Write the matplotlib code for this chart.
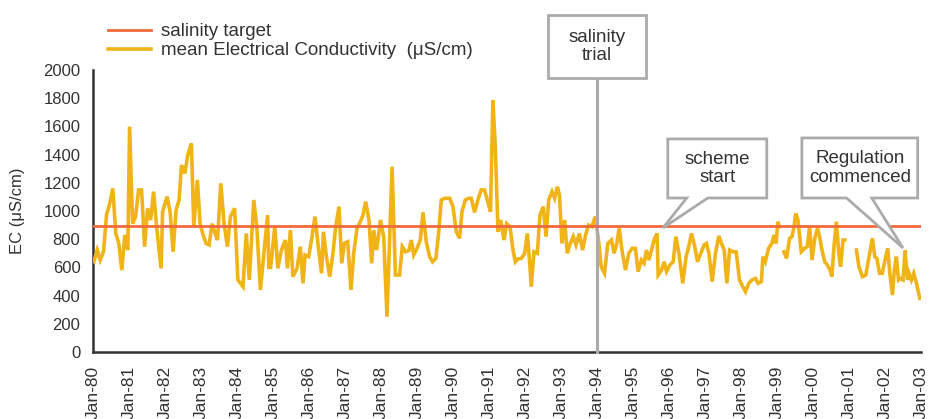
import matplotlib.pyplot as plt
from matplotlib.patches import Polygon
import numpy as np

plt.rcParams['font.family'] = ['Liberation Sans', 'DejaVu Sans']

nan = float('nan')

# sample position (months since Jan-1980) and mean EC
sample_month = [
    0.3, 1.4, 2.4, 3.5, 4.5, 5.6, 6.6, 7.6, 8.6, 9.6, 10.6, 11.6,
    12.2, 13.2, 14.2, 15.2, 16.2, 17.2, 18.2, 19.2, 20.2, 21.2, 22.7, 23.2,
    24.7, 25.7, 26.7, 27.7, 28.7, 29.5, 30.6, 31.6, 32.8, 33.6, 34.8, 35.7,
    36.7, 37.7, 38.7, 39.7, 40.7, 41.5, 42.6, 43.7, 44.8, 45.8, 47.2,
    48.3, 50.0, 51.1, 52.1, 53.6, 54.6, 55.8, 57.2, 58.2, 58.6, 59.2,
    60.6, 61.6, 62.8, 64.1, 64.8, 65.8, 66.6, 68.0, 69.1, 70.0, 70.7, 71.9,
    73.0, 74.0, 75.1, 76.2, 76.8, 77.8, 78.9, 80.0, 80.9, 82.0, 82.9, 83.8,
    84.9, 86.0, 86.9, 88.0, 89.1, 90.0, 90.9, 92.0, 92.9, 93.6, 94.5, 95.1, 95.8,
    96.9, 98.0, 99.7, 100.8, 102.2, 103.1, 104.2, 105.3, 106.1, 106.9, 108.0,
    109.1, 110.0, 111.1, 112.2, 113.2, 114.3, 115.2, 116.1, 117.2, 118.9, 120.0,
    121.1, 122.2, 123.0, 124.1, 125.2, 126.1, 127.2, 128.3, 129.4, 130.5, 131.6,
    132.5, 133.3, 134.1, 135.0, 135.9, 137.0, 137.9, 139.0, 140.0, 140.8, 141.6,
    142.8, 143.9, 144.8, 145.5, 146.1, 147.0, 148.1, 149.0, 150.1, 151.0, 151.9,
    153.0, 153.9, 154.8, 155.5, 156.3, 157.2, 158.1, 159.1, 160.1, 161.0, 162.1,
    163.2, 164.2, 165.2, 166.3, 167.4, 168.5, 169.4, 170.5, 171.6, 172.8, 173.7,
    174.6, 175.4, 176.4, 177.5, 178.6, 179.7, 180.8, 181.7, 182.8, 183.7, 184.5,
    185.3, 186.2, 187.0, 188.0, 188.4, 189.5, 190.4, 191.2, 192.3, 193.4, 194.3,
    195.3, 196.6, 197.7, 198.6, 199.5, 200.6, 201.5, 202.6, 203.7, 204.5, 205.3,
    206.4, 207.5, 208.6, 209.5, 210.4, 211.3, 212.2, 213.3, 214.4, 215.5, 216.3,
    217.5, 218.6, 219.7, 220.8, 221.7, 222.8, 223.3, 224.1, 225.2, 226.3, 227.0,
    227.7, 228.3, 228.8, 229.5, 230.3, 231.2, 232.2, 233.0, 233.7, 234.2, 235.0,
    236.1, 237.2, 238.1, 238.9, 239.7, 240.6, 241.5, 242.2, 243.0, 243.9, 244.8,
    245.7, 246.3, 247.0, 247.8, 248.6, 249.2, 250.0, 250.6, 252.5, 254.5, 255.3,
    256.5, 257.6, 258.7, 259.8, 260.6, 261.3, 262.2, 263.1, 264.0, 264.9, 265.6,
    266.5, 267.1, 267.8, 268.5, 269.1, 270.0, 270.7, 271.5, 272.0, 272.8, 273.6,
    274.5, 275.6,
]
ec = [
    640, 723, 652, 711, 971, 1054, 1160, 841, 770, 581, 830, 723,
    1598, 910, 960, 1149, 1149, 747, 1019, 936, 1137, 889, 593, 995,
    1102, 995, 711, 1007, 1078, 1326, 1267, 1397, 1480, 889, 1220, 910,
    830, 770, 759, 910, 841, 794, 1196, 910, 747, 960, 1019,
    511, 463, 841, 511, 1078, 889, 440, 747, 971, 600, 600,
    889, 593, 723, 794, 593, 865, 534, 593, 747, 487, 688, 676,
    818, 960, 747, 558, 853, 676, 534, 700, 889, 1031, 629, 771,
    782, 440, 700, 877, 924, 971, 1066, 936, 629, 865, 723, 806, 936,
    818, 250, 1314, 546, 546, 747, 711, 720, 794, 688, 735,
    794, 990, 780, 676, 640, 664, 841, 1078, 1090, 1090, 1031,
    853, 806, 995, 1078, 1090, 1090, 990, 1078, 1149, 1149, 1066,
    995, 1787, 1456, 853, 936, 794, 910, 889, 723, 640, 660,
    664, 700, 841, 652, 463, 711, 700, 971, 1031, 818, 1078,
    1137, 1090, 1172, 1113, 770, 936, 700, 770, 818, 759, 841,
    723, 830, 900, 889, 960, 794, 605, 558, 770, 794, 700,
    770, 877, 711, 581, 700, 735, 735, 570, 652, 629, 723,
    652, 723, 794, 841, 546, 581, 640, 570, 617, 640, 818,
    700, 487, 676, 747, 841, 747, 640, 700, 759, 770, 700,
    499, 700, 823, 770, 723, 487, 723, 711, 710, 511, 475,
    428, 487, 511, 522, 487, 499, 676, 640, 735, 770, 830,
    770, 924, 889, nan, 711, 664, 806, 818, 889, 983, 936,
    711, 735, 747, 889, 652, 806, 877, 818, 723, 640, 617,
    581, 534, 747, 924, 700, 605, 794, 794, nan, 723, 605,
    534, 546, 676, 806, 676, 664, 558, 558, 652, 735, 558,
    404, 581, 676, 511, 522, 511, 723, 511, 558, 511, 558,
    487, 381,
]
salinity_target = 890

tick_years = list(range(1980, 2004))
tick_labels = ['Jan-%02d' % (y % 100) for y in tick_years]
y_ticks = list(range(0, 2001, 200))

txt = '#333333'
grey = '#ababab'

fig = plt.figure(figsize=(9.48, 4.19), dpi=100)
ax = fig.add_axes([0.0981, 0.1599, 0.8734, 0.6731])

ax.plot(sample_month, ec, color='#f0b418', lw=2.6, zorder=3,
        solid_joinstyle='miter', label='mean Electrical Conductivity  (\u03bcS/cm)')
ax.axhline(salinity_target, color='#f26a3b', lw=2.0, zorder=5,
           label='salinity target')

ax.set_xlim(0, 276)
ax.set_ylim(0, 2000)
ax.set_xticks([(y - 1980) * 12 for y in tick_years])
ax.set_xticklabels(tick_labels, rotation=90, fontsize=12.5, color=txt)
ax.set_yticks(y_ticks)
ax.set_yticklabels([str(v) for v in y_ticks], fontsize=12, color=txt)
ax.tick_params(axis='both', length=0)
ax.tick_params(axis='x', pad=10)
ax.tick_params(axis='y', pad=9)
ax.set_ylabel('EC (\u03bcS/cm)', fontsize=12, color=txt)
ax.yaxis.set_label_coords(-0.082, 0.5)

for s in ['top', 'right']:
    ax.spines[s].set_visible(False)
for s in ['left', 'bottom']:
    ax.spines[s].set_color('#333333')
    ax.spines[s].set_linewidth(1.8)

h, l = ax.get_legend_handles_labels()
leg = fig.legend(h[::-1], l[::-1], loc='upper left', bbox_to_anchor=(0.114, 0.945),
                 frameon=False, fontsize=13.5, handlelength=2.3, handletextpad=0.5,
                 labelspacing=0.1, borderpad=0, borderaxespad=0)
for t in leg.get_texts():
    t.set_color(txt)


def callout(x0, x1, y0, y1, label, wedge=None):
    if wedge is None:
        pts = [(x0, y0), (x1, y0), (x1, y1), (x0, y1)]
    else:
        b0, b1, tip = wedge
        pts = [(x0, y0), (b0, y0), tip, (b1, y0), (x1, y0), (x1, y1), (x0, y1)]
    ax.add_patch(Polygon(pts, closed=True, fc='white', ec=grey, lw=2.0,
                         clip_on=False, zorder=6, joinstyle='miter'))
    ax.text((x0 + x1) / 2, (y0 + y1) / 2, label, ha='center', va='center',
            fontsize=13.5, color=txt, zorder=7, linespacing=1.1, clip_on=False)


# salinity trial marker at Jan-94
trial = (1994 - 1980) * 12
ax.plot([trial, trial], [0, 1943], color=grey, lw=2.2, zorder=4, clip_on=False)
callout(trial - 16.4, trial + 16.4, 1943, 2390, 'salinity\ntrial')
callout(191.6, 224.6, 1092, 1511, 'scheme\nstart', (197.9, 204.9, (190, 880)))
callout(236.3, 274.9, 1092, 1518, 'Regulation\ncommenced', (251.2, 259.6, (270, 738)))

fig.savefig('out.png', dpi=100)
